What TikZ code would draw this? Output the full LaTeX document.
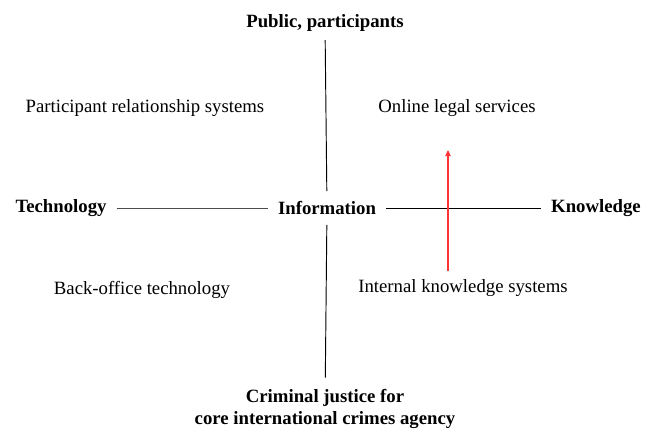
\documentclass[tikz,border=0pt]{standalone}
\usepackage{fontspec}
\setmainfont{Liberation Serif}
\usetikzlibrary{positioning, arrows.meta}
\tikzset{
	x=0.64pt,
	y=-0.64pt,
	font=\fontsize{12}{14}\selectfont,
	pole/.style={
		font=\fontsize{12}{14}\selectfont\bfseries,
		align=center
	},
	quadrant/.style={
		inner sep=0pt
	},
	axis/.style={
		line width=.6pt,
		shorten >=3pt,
		shorten <=3pt
	},
	trend/.style={
		red!80,
		line width=.8pt,
		-{Triangle[length=4pt, width=3.5pt]}
	}
}

\begin{document}
\begin{tikzpicture}
	\useasboundingbox (0,0) rectangle (654,429);

	\node[pole] (info) at (327,208) {Information};
	\node[pole] (pub) at (325,23) {Public, participants};
	\node[pole] (tech) at (61,208) {Technology};
	\node[pole] (know) at (596,208) {Knowledge};
	\node[pole] (crim) at (325,409) {Criminal justice for\\core international crimes agency};

	\node[quadrant] (prs) at (145,108) {Participant relationship systems};
	\node[quadrant] (ols) at (457,108) {Online legal services};
	\node[quadrant] (bot) at (142,290) {Back-office technology};
	\node[quadrant] (iks) at (463,288) {Internal knowledge systems};

	\draw[axis, shorten <=2pt] (pub) -- (info);
	\draw[axis, shorten >=4pt] (info) -- (crim);
	\draw[axis, black!70] (tech) -- (info);
	\draw[axis] (info) -- (know);

	\coordinate (from) at (448,271);
	\coordinate (to) at (448,150);
	\draw[trend] (from) -- (to);
\end{tikzpicture}
\end{document}
